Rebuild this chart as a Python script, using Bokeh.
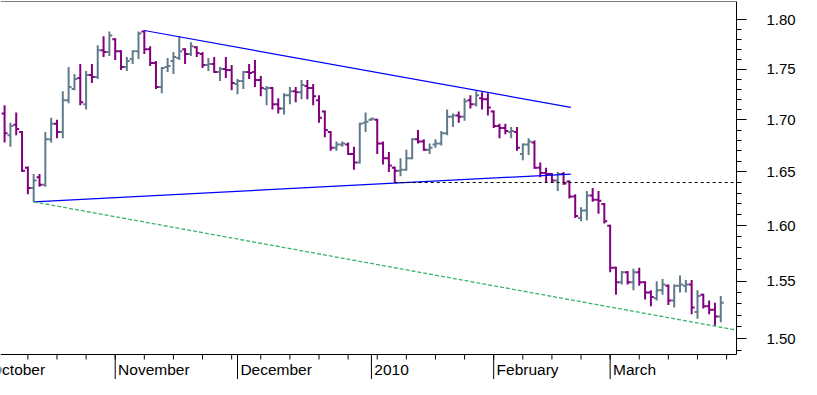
import math
import pandas as pd
from bokeh.plotting import figure
from bokeh.models import Range1d, FixedTicker, PrintfTickFormatter, Span, ColumnDataSource
from bokeh.core.properties import value
from bokeh.embed import file_html
from bokeh.resources import INLINE

# ---------------- data ----------------
calendar_start = "2009-10-01"          # trading-day index 0
first_bar_date = "2009-10-06"

opens = [1.706, 1.685, 1.695, 1.688, 1.654, 1.635, 1.645, 1.638, 1.681, 1.696,
         1.688, 1.719, 1.730, 1.741, 1.715, 1.744, 1.742, 1.769, 1.767, 1.780,
         1.768, 1.752, 1.760, 1.768, 1.788, 1.770, 1.756, 1.732, 1.752, 1.758,
         1.761, 1.770, 1.765, 1.772, 1.765, 1.754, 1.755, 1.747, 1.750, 1.749,
         1.735, 1.738, 1.747, 1.747, 1.739, 1.730, 1.731, 1.715, 1.711, 1.724,
         1.728, 1.727, 1.733, 1.731, 1.719, 1.708, 1.688, 1.673, 1.676, 1.676,
         1.667, 1.659, 1.697, 1.700, 1.700, 1.677, 1.663, 1.654, 1.651, 1.652,
         1.663, 1.681, 1.679, 1.671, 1.676, 1.677, 1.687, 1.703, 1.704, 1.703,
         1.719, 1.715, 1.721, 1.720, 1.708, 1.694, 1.692, 1.688, 1.688, 1.667,
         1.676, 1.678, 1.654, 1.649, 1.648, 1.642, 1.648, 1.641, 1.627, 1.607,
         1.614, 1.628, 1.624, 1.620, 1.600, 1.562, 1.549, 1.558, 1.549, 1.558,
         1.549, 1.540, 1.535, 1.542, 1.546, 1.533, 1.546, 1.546, 1.547, 1.523,
         1.538, 1.528, 1.525, 1.519]
highs = [1.714, 1.697, 1.707, 1.689, 1.655, 1.648, 1.648, 1.688, 1.702, 1.700,
         1.728, 1.752, 1.745, 1.755, 1.748, 1.755, 1.774, 1.783, 1.788, 1.781,
         1.769, 1.762, 1.769, 1.788, 1.789, 1.773, 1.758, 1.752, 1.761, 1.767,
         1.783, 1.771, 1.777, 1.773, 1.767, 1.761, 1.762, 1.752, 1.762, 1.754,
         1.740, 1.748, 1.755, 1.759, 1.743, 1.733, 1.732, 1.721, 1.726, 1.732,
         1.732, 1.739, 1.739, 1.735, 1.724, 1.709, 1.689, 1.679, 1.679, 1.678,
         1.674, 1.697, 1.707, 1.702, 1.701, 1.679, 1.669, 1.655, 1.663, 1.671,
         1.682, 1.690, 1.681, 1.677, 1.681, 1.689, 1.710, 1.706, 1.708, 1.721,
         1.724, 1.728, 1.727, 1.726, 1.709, 1.696, 1.696, 1.693, 1.693, 1.677,
         1.682, 1.680, 1.659, 1.654, 1.649, 1.650, 1.650, 1.642, 1.629, 1.617,
         1.632, 1.635, 1.632, 1.621, 1.601, 1.563, 1.559, 1.559, 1.561, 1.562,
         1.550, 1.542, 1.550, 1.552, 1.547, 1.547, 1.555, 1.551, 1.551, 1.542,
         1.539, 1.533, 1.531, 1.537]
lows = [1.678, 1.674, 1.685, 1.650, 1.629, 1.622, 1.636, 1.636, 1.678, 1.682,
        1.682, 1.716, 1.729, 1.714, 1.710, 1.736, 1.740, 1.762, 1.763, 1.759,
        1.749, 1.748, 1.755, 1.760, 1.765, 1.753, 1.730, 1.726, 1.747, 1.745,
        1.759, 1.755, 1.763, 1.762, 1.751, 1.748, 1.746, 1.738, 1.741, 1.729,
        1.725, 1.730, 1.740, 1.732, 1.723, 1.714, 1.710, 1.706, 1.705, 1.715,
        1.717, 1.720, 1.720, 1.714, 1.697, 1.683, 1.670, 1.670, 1.674, 1.666,
        1.652, 1.658, 1.688, 1.699, 1.667, 1.657, 1.650, 1.640, 1.646, 1.651,
        1.662, 1.677, 1.670, 1.667, 1.673, 1.675, 1.685, 1.693, 1.697, 1.699,
        1.711, 1.713, 1.710, 1.704, 1.692, 1.682, 1.686, 1.682, 1.670, 1.661,
        1.666, 1.653, 1.645, 1.640, 1.640, 1.632, 1.638, 1.625, 1.607, 1.604,
        1.605, 1.622, 1.611, 1.602, 1.558, 1.538, 1.547, 1.547, 1.542, 1.546,
        1.534, 1.528, 1.533, 1.538, 1.529, 1.527, 1.540, 1.540, 1.521, 1.517,
        1.526, 1.521, 1.511, 1.514]
closes = [1.687, 1.694, 1.691, 1.651, 1.635, 1.642, 1.638, 1.681, 1.696, 1.688,
          1.719, 1.732, 1.740, 1.717, 1.744, 1.742, 1.769, 1.767, 1.784, 1.768,
          1.752, 1.758, 1.768, 1.786, 1.770, 1.756, 1.732, 1.751, 1.753, 1.762,
          1.768, 1.765, 1.773, 1.766, 1.754, 1.755, 1.747, 1.750, 1.749, 1.736,
          1.738, 1.747, 1.746, 1.739, 1.731, 1.731, 1.715, 1.711, 1.724, 1.728,
          1.727, 1.734, 1.731, 1.723, 1.702, 1.690, 1.673, 1.676, 1.677, 1.667,
          1.659, 1.696, 1.698, 1.701, 1.677, 1.663, 1.656, 1.651, 1.652, 1.663,
          1.681, 1.679, 1.671, 1.673, 1.677, 1.687, 1.703, 1.704, 1.703, 1.718,
          1.715, 1.724, 1.720, 1.712, 1.694, 1.692, 1.689, 1.689, 1.673, 1.676,
          1.679, 1.654, 1.649, 1.648, 1.642, 1.648, 1.639, 1.627, 1.609, 1.614,
          1.628, 1.624, 1.623, 1.604, 1.562, 1.549, 1.558, 1.549, 1.558, 1.549,
          1.540, 1.536, 1.542, 1.547, 1.533, 1.546, 1.547, 1.547, 1.527, 1.537,
          1.528, 1.525, 1.519, 1.531]

month_labels = ["October", "November", "December", "2010", "February", "March"]
month_starts = ["2009-10-01", "2009-11-01", "2009-12-01", "2010-01-01", "2010-02-01", "2010-03-01"]

price_ticks = [1.50, 1.55, 1.60, 1.65, 1.70, 1.75, 1.80]
price_minor = [round(1.49 + 0.01 * k, 2) for k in range(32)]

# trend lines (trading-day index, price)
upper_idx = [27, 100.25]
upper_val = [1.789, 1.712]
lower_idx = [8, 100.25]
lower_val = [1.622, 1.648]
channel_idx = [8, 128.7]
channel_val = [1.622, 1.5073]
support_idx = [70, 128.7]
support_val = [1.640, 1.640]

# ---------------- build ----------------
days = pd.bdate_range(calendar_start, periods=140)
day_index = {d: i for i, d in enumerate(days)}
first = day_index[pd.Timestamp(first_bar_date)]
xs = [first + k for k in range(len(opens))]

month_idx = []
for m in month_starts:
    ts = pd.Timestamp(m)
    month_idx.append(next(i for i, d in enumerate(days) if d >= ts))
monday_idx = [i for i, d in enumerate(days) if d.weekday() == 0]

PURPLE = "#800080"
GREY = "#607B8B"
colors = [PURPLE if c < o else GREY for o, c in zip(opens, closes)]

W, H = 801, 379
BORDER_R, BORDER_T = 65, 1
AXIS_ZONE = 25                      # pixels below the price area (date axis)
price_h = H - BORDER_T - AXIS_ZONE

y0, y1 = 1.4864, 1.8189             # price area
x0, x1 = 2.3, 128.7
ln_per_px = math.log(y1 / y0) / price_h
def below(px):
    return math.exp(math.log(y0) - px * ln_per_px)
y_ext = below(AXIS_ZONE)

p = figure(width=W, height=H, x_range=Range1d(x0, x1), y_range=Range1d(y_ext, y1),
           y_axis_type="log", y_axis_location="right",
           output_backend="svg", toolbar_location=None,
           min_border_left=0, min_border_top=BORDER_T,
           min_border_right=BORDER_R, min_border_bottom=0)
p.grid.visible = False
p.xaxis.visible = False
p.outline_line_color = None
p.background_fill_color = "white"
p.border_fill_color = "white"

tick = 0.5
src = ColumnDataSource(dict(
    x=xs, o=opens, h=highs, l=lows, c=closes, color=colors,
    xl=[x - tick for x in xs], xr=[x + tick for x in xs]))
p.segment(x0="x", y0="l", x1="x", y1="h", color="color", line_width=2, source=src)
p.segment(x0="xl", y0="o", x1="x", y1="o", color="color", line_width=2, source=src)
p.segment(x0="x", y0="c", x1="xr", y1="c", color="color", line_width=2, source=src)

p.line(upper_idx, upper_val, line_color="#0000FF", line_width=1.2)
p.line(lower_idx, lower_val, line_color="#0000FF", line_width=1.2)
p.line(channel_idx, channel_val, line_color="#3CB371", line_width=1.3, line_dash="4 2")
p.line(support_idx, support_val, line_color="black", line_width=1, line_dash="3 3")

# frame top line and date axis line
p.add_layout(Span(location=y1, dimension="width", line_color="black", line_width=1))
p.add_layout(Span(location=y0, dimension="width", line_color="black", line_width=1))

# date axis ticks and month names
p.segment(x0=month_idx, y0=[y0] * len(month_idx), x1=month_idx, y1=[y_ext] * len(month_idx),
          line_color="black", line_width=1)
p.segment(x0=monday_idx, y0=[y0] * len(monday_idx), x1=monday_idx,
          y1=[below(5)] * len(monday_idx), line_color="black", line_width=1)
p.text(x=[i + 0.5 for i in month_idx], y=[below(15)] * len(month_idx), text=month_labels,
       text_font=value("Liberation Sans"), text_font_size=value("15.5px"),
       text_baseline="middle", text_align="left", text_color="black")

ya = p.yaxis[0]
ya.bounds = (y0, y1)
ya.ticker = FixedTicker(ticks=price_ticks, minor_ticks=price_minor)
ya.formatter = PrintfTickFormatter(format="%.2f")
ya.major_tick_in = 0
ya.major_tick_out = 10
ya.minor_tick_in = 0
ya.minor_tick_out = 5
ya.axis_line_color = "black"
ya.major_tick_line_color = "black"
ya.minor_tick_line_color = "black"
ya.major_label_standoff = 20
ya.major_label_text_font = "Liberation Sans"
ya.major_label_text_font_size = "15px"
ya.major_label_text_color = "black"

open("out.html", "w").write(file_html(p, INLINE))
